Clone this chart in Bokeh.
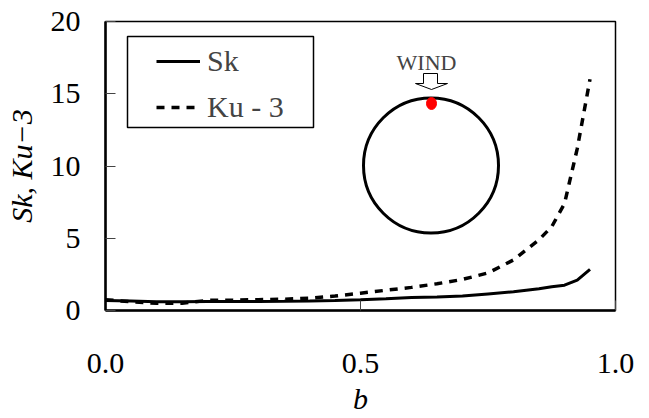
from bokeh.plotting import figure
from bokeh.models import (Range1d, FixedTicker, PrintfTickFormatter, Label,
                          BoxAnnotation, Legend, LegendItem)
from bokeh.embed import file_html
from bokeh.resources import INLINE

# ---------------- data ----------------
b_vals = [0.0, 0.05, 0.1, 0.15, 0.2, 0.25, 0.3, 0.35, 0.4, 0.45, 0.5, 0.55,
          0.6, 0.65, 0.7, 0.75, 0.8, 0.85, 0.875, 0.9, 0.925, 0.95]
sk_vals = [0.7, 0.65, 0.6, 0.6, 0.62, 0.63, 0.63, 0.64, 0.66, 0.7, 0.75, 0.82,
           0.9, 0.93, 1.0, 1.15, 1.3, 1.5, 1.65, 1.75, 2.1, 2.85]
ku3_vals = [0.75, 0.6, 0.5, 0.5, 0.7, 0.72, 0.75, 0.78, 0.85, 1.0, 1.2, 1.4,
            1.6, 1.85, 2.15, 2.6, 3.5, 4.9, 5.8, 7.4, 11.2, 16.0]
x_ticks = [0.0, 0.5, 1.0]
y_ticks = [0, 5, 10, 15, 20]
series_names = ["Sk", "Ku - 3"]

# ---------------- layout ----------------
W, H = 649, 418
FL, FR, FT, FB = 105, 615, 21, 310   # frame edges in canvas px
X0, X1, Y0, Y1 = 0.0, 1.0, 0.0, 20.0
FONT = "Liberation Serif"


def px2x(px):
    return X0 + (px - FL) / (FR - FL) * (X1 - X0)


def px2y(py):
    return Y0 + (FB - py) / (FB - FT) * (Y1 - Y0)


p = figure(width=W, height=H, output_backend="svg", toolbar_location=None,
           x_range=Range1d(X0, X1), y_range=Range1d(Y0, Y1),
           min_border_left=FL, min_border_right=W - FR,
           min_border_top=FT, min_border_bottom=H - FB)
p.background_fill_color = "white"
p.border_fill_color = "white"
p.outline_line_color = "black"
p.outline_line_width = 1.5
p.xgrid.visible = False
p.ygrid.visible = False

for ax in (p.xaxis[0], p.yaxis[0]):
    ax.axis_line_width = 2.5
    ax.axis_line_color = "black"
    ax.major_tick_in = 10
    ax.major_tick_out = 0
    ax.major_tick_line_color = "#444444"
    ax.major_tick_line_width = 1
    ax.minor_tick_line_color = None
    ax.major_label_text_font = FONT
    ax.major_label_text_font_size = "30px"
    ax.major_label_text_color = "black"
    ax.axis_label_text_font = FONT
    ax.axis_label_text_font_style = "italic"
    ax.axis_label_text_font_size = "30px"
    ax.axis_label_text_color = "black"

p.xaxis.ticker = FixedTicker(ticks=x_ticks)
p.xaxis.formatter = PrintfTickFormatter(format="%.1f")
p.xaxis.major_label_standoff = 43
p.xaxis.axis_label = "b"
p.xaxis.axis_label_standoff = 6

p.yaxis.ticker = FixedTicker(ticks=y_ticks)
p.yaxis.major_label_standoff = 25
p.yaxis.axis_label = "Sk, Ku\u22123"
p.yaxis.axis_label_standoff = 10

# ---------------- series ----------------
r_sk = p.line(b_vals, sk_vals, line_color="black", line_width=3)
r_ku = p.line(b_vals, ku3_vals, line_color="black", line_width=3.5,
              line_dash="8 7")

# legend frame
p.add_layout(BoxAnnotation(left=px2x(127), right=px2x(313), top=px2y(36),
                           bottom=px2y(127), fill_alpha=0, line_color="black",
                           line_alpha=1, line_width=1.5))
legend = Legend(items=[LegendItem(label=series_names[0], renderers=[r_sk]),
                       LegendItem(label=series_names[1], renderers=[r_ku])],
                location=(156 - FL, FB - 124), padding=0, margin=0,
                spacing=12, glyph_width=44, glyph_height=30, label_height=30,
                label_standoff=7, border_line_alpha=0,
                background_fill_alpha=0,
                label_text_font=FONT, label_text_font_size="30px")
p.add_layout(legend)

# ---------------- inset: cylinder with wind ----------------
cx, cy, rad = 430.5, 165, 67.5
p.circle(x=[px2x(cx)], y=[px2y(cy)], radius=rad, radius_units="screen",
         fill_color=None, line_color="black", line_width=3)
p.ellipse(x=[px2x(431)], y=[px2y(103)], width=10, height=12,
          width_units="screen", height_units="screen",
          fill_color="red", line_color="red")
arrow_px = [(423, 73), (437, 73), (437, 83), (447, 83), (431, 89),
            (415, 83), (423, 83)]
p.patch([px2x(a) for a, _ in arrow_px], [px2y(c) for _, c in arrow_px],
        fill_color="white", line_color="black", line_width=1)
p.add_layout(Label(x=px2x(426), y=px2y(61.5), text="WIND", text_font=FONT,
                   text_font_size="22px", text_align="center",
                   text_baseline="alphabetic"))

open("out.html", "w").write(file_html(p, INLINE))
